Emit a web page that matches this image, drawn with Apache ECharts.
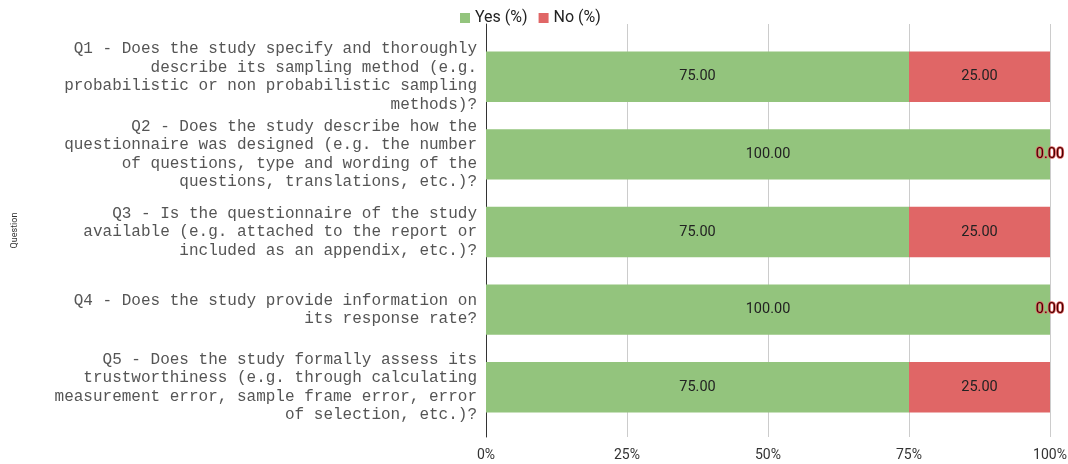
<!DOCTYPE html>
<html>
<head>
<meta charset="utf-8">
<script src="https://cdn.jsdelivr.net/npm/echarts@6/dist/echarts.min.js"></script>
<style>
  html, body { margin: 0; padding: 0; background: #fff; }
  #chart { width: 1068px; height: 464px; }
</style>
</head>
<body>
<div id="chart"></div>
<script>
// Survey questions (wrapped as they appear on the axis)
const questions = [
  'Q1 - Does the study specify and thoroughly\ndescribe its sampling method (e.g.\nprobabilistic or non probabilistic sampling\nmethods)?',
  'Q2 - Does the study describe how the\nquestionnaire was designed (e.g. the number\nof questions, type and wording of the\nquestions, translations, etc.)?',
  'Q3 - Is the questionnaire of the study\navailable (e.g. attached to the report or\nincluded as an appendix, etc.)?',
  'Q4 - Does the study provide information on\nits response rate?',
  'Q5 - Does the study formally assess its\ntrustworthiness (e.g. through calculating\nmeasurement error, sample frame error, error\nof selection, etc.)?'
];
const yesPct = [75, 100, 75, 100, 75];
const noPct = [25, 0, 25, 0, 25];
const seriesNames = ['Yes (%)', 'No (%)'];
const xTicks = [0, 25, 50, 75, 100];

const GREEN = '#93c47d';
const RED = '#e06666';

const labelBase = {
  show: true,
  position: 'inside',
  fontFamily: 'Roboto',
  fontSize: 14.5,
  color: '#222',
  formatter: p => Number(p.value).toFixed(2)
};

// zero-valued segments get an outlined label so they stay readable on the bar edge
function withLabels(values, color) {
  return values.map(v => v === 0
    ? { value: v, label: { textBorderColor: color, textBorderWidth: 1.5, color: '#4a0000' } }
    : v);
}

const chart = echarts.init(document.getElementById('chart'), null, { renderer: 'canvas' });
chart.setOption({
  animation: false,
  backgroundColor: '#fff',
  legend: {
    top: 5,
    left: 455,
    itemWidth: 10,
    itemHeight: 10,
    itemGap: 11,
    icon: 'rect',
    textStyle: { fontFamily: 'Roboto', fontSize: 16, color: '#222' },
    data: seriesNames
  },
  grid: [
    // frame: axis line, gridlines, percent ticks
    { left: 486, right: 18, top: 24, bottom: 27, outerBoundsMode: 'none', containLabel: false },
    // bars
    { left: 486, right: 18, top: 38, bottom: 38, outerBoundsMode: 'none', containLabel: false }
  ],
  xAxis: [
    {
      gridIndex: 0,
      type: 'value',
      min: 0, max: 100, interval: 25,
      axisLine: { show: false },
      axisTick: { show: false },
      splitLine: { show: true, lineStyle: { color: '#cccccc', width: 1 } },
      axisLabel: {
        margin: 11,
        fontFamily: 'Roboto', fontSize: 14, color: '#333',
        formatter: v => xTicks.includes(v) ? v + '%' : ''
      }
    },
    {
      gridIndex: 1,
      type: 'value',
      min: 0, max: 100,
      show: false
    }
  ],
  yAxis: [
    {
      gridIndex: 0,
      type: 'category',
      data: [''],
      axisLine: { show: true, lineStyle: { color: '#333', width: 1 } },
      axisTick: { show: false },
      axisLabel: { show: false },
      name: 'Question',
      nameLocation: 'middle',
      nameGap: 467,
      nameTextStyle: { fontFamily: 'Roboto', fontSize: 9, color: '#333' }
    },
    {
      gridIndex: 1,
      type: 'category',
      inverse: true,
      data: questions,
      axisLine: { show: false },
      axisTick: { show: false },
      splitLine: { show: false },
      axisLabel: {
        margin: 9,
        fontFamily: '"Liberation Mono", "Courier New", monospace',
        fontSize: 16,
        lineHeight: 18.5,
        color: '#555',
        align: 'right'
      }
    }
  ],
  series: [
    {
      name: seriesNames[0],
      type: 'bar',
      stack: 'total',
      xAxisIndex: 1,
      yAxisIndex: 1,
      barCategoryGap: '35%',
      itemStyle: { color: GREEN },
      label: labelBase,
      data: withLabels(yesPct, GREEN)
    },
    {
      name: seriesNames[1],
      type: 'bar',
      stack: 'total',
      xAxisIndex: 1,
      yAxisIndex: 1,
      barCategoryGap: '35%',
      itemStyle: { color: RED },
      label: labelBase,
      data: withLabels(noPct, RED)
    }
  ]
});
</script>
</body>
</html>
